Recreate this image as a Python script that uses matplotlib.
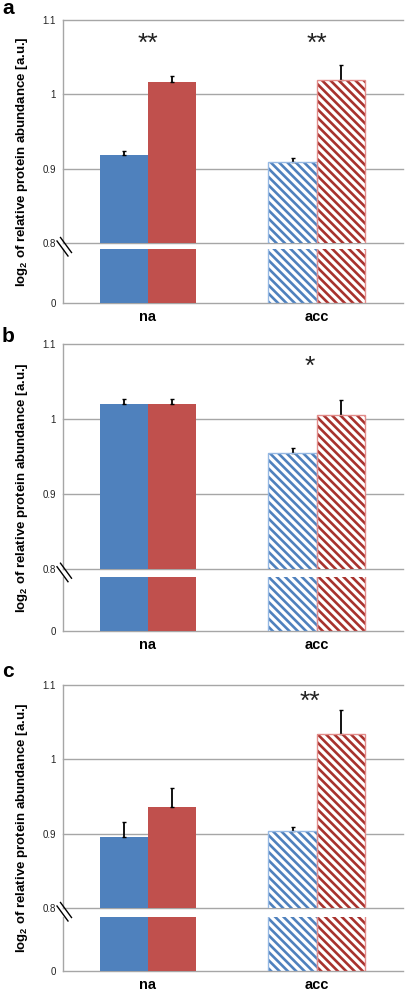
import matplotlib
matplotlib.use('Agg')
import matplotlib.pyplot as plt
import numpy as np

plt.rcParams['font.family'] = ['Liberation Sans', 'DejaVu Sans']
plt.rcParams['mathtext.fontset'] = 'custom'
plt.rcParams['mathtext.rm'] = 'Liberation Sans'
plt.rcParams['mathtext.bf'] = 'Liberation Sans:bold'
plt.rcParams['hatch.linewidth'] = 1.9

# data: one entry per panel (a, b, c)
panels = ['a', 'b', 'c']
categories = ['na', 'acc']
blue_na = [0.918, 1.0205, 0.895]
blue_na_err = [0.006, 0.0065, 0.021]
red_na = [1.017, 1.0205, 0.936]
red_na_err = [0.007, 0.0065, 0.026]
blue_acc = [0.909, 0.955, 0.904]
blue_acc_err = [0.006, 0.006, 0.005]
red_acc = [1.019, 1.005, 1.034]
red_acc_err = [0.020, 0.020, 0.032]
stars_na = ['**', '', '']
stars_acc = ['**', '*', '**']
yticks = [0.8, 0.9, 1.0, 1.1]
ytick_labels = ['0.8', '0.9', '1', '1.1']

BLUE = '#4f81bd'
RED = '#c0504d'
BLUE_HATCH = '#4f81bd'
RED_HATCH = '#a8322e'
BLUE_EDGE = '#95b8e3'
RED_EDGE = '#e38c8a'
GRID = '#a6a6a6'
HATCH = chr(92) * 4  # backslash stripes

W, H = 406, 992
fig = plt.figure(figsize=(W / 100, H / 100), dpi=100)

# pixel layout: (upper top, upper bottom, lower top, lower bottom)
layout = [(20, 243, 249, 303), (344, 568.7, 577, 631.3), (685, 908, 917, 971)]
letter_base = [14, 341.7, 677]
star_y = [1.059, 1.0595, 1.068]
star_dx = [0.0, -0.04, -0.04]
x_left, x_right = 63, 403
bw = 0.287
xlim = (-0.503, 1.509)


def px_axes(top, bottom):
    return fig.add_axes([x_left / W, 1 - bottom / H, (x_right - x_left) / W, (bottom - top) / H])


def draw_bars(ax, i, with_err):
    x = np.arange(len(categories))
    kw = dict(capsize=1.5, ecolor='black', elinewidth=1.3, capthick=1.0)
    e = lambda v: ([0], [v]) if with_err else None
    ax.bar(x[0] - bw / 2, blue_na[i], bw, color=BLUE, zorder=3,
           yerr=e(blue_na_err[i]), error_kw=kw)
    ax.bar(x[0] + bw / 2, red_na[i], bw, color=RED, zorder=3,
           yerr=e(red_na_err[i]), error_kw=kw)
    ax.bar(x[1] - bw / 2, blue_acc[i], bw, facecolor='white', edgecolor=BLUE_HATCH,
           hatch=HATCH, linewidth=0, zorder=3, yerr=e(blue_acc_err[i]), error_kw=kw)
    ax.bar(x[1] - bw / 2, blue_acc[i], bw, fill=False, edgecolor=BLUE_EDGE, linewidth=1.0, zorder=4)
    ax.bar(x[1] + bw / 2, red_acc[i], bw, facecolor='white', edgecolor=RED_HATCH,
           hatch=HATCH, linewidth=0, zorder=3, yerr=e(red_acc_err[i]), error_kw=kw)
    ax.bar(x[1] + bw / 2, red_acc[i], bw, fill=False, edgecolor=RED_EDGE, linewidth=1.0, zorder=4)


for i, p in enumerate(panels):
    ut, ub, lt, lb = layout[i]

    # upper part of broken axis
    ax = px_axes(ut, ub)
    draw_bars(ax, i, True)
    ax.set_xlim(*xlim)
    ax.set_ylim(0.8, 1.1)
    for yv in yticks:
        ax.axhline(yv, color=GRID, lw=1.0, zorder=1, clip_on=False)
    ax.set_yticks(yticks)
    ax.set_yticklabels(ytick_labels, fontsize=7, color='#222222')
    ax.set_xticks([])
    ax.tick_params(axis='y', length=0, pad=5)
    for s in ['top', 'right', 'bottom']:
        ax.spines[s].set_visible(False)
    ax.spines['left'].set_color(GRID)
    ax.spines['left'].set_linewidth(1.0)
    for xs, txt in [(0 + star_dx[i], stars_na[i]), (1 + star_dx[i], stars_acc[i])]:
        if txt:
            ax.text(xs, star_y[i], txt, ha='center', va='baseline', fontsize=19, color='#222222')

    # lower part
    axl = px_axes(lt, lb)
    draw_bars(axl, i, False)
    axl.set_xlim(*xlim)
    axl.set_ylim(0, 0.8)
    axl.set_yticks([0])
    axl.set_yticklabels(['0'], fontsize=7, color='#222222')
    axl.set_xticks([0, 1])
    axl.set_xticklabels(categories, fontsize=10.5, fontweight='bold')
    axl.tick_params(axis='both', length=0, pad=5)
    for s in ['top', 'right']:
        axl.spines[s].set_visible(False)
    for s in ['left', 'bottom']:
        axl.spines[s].set_color(GRID)
        axl.spines[s].set_linewidth(1.0)

    # break marks on the y axis
    for off in [0, 3.5]:
        x0, y0 = 57 + off, ub - 2 - off
        fig.add_artist(plt.Line2D([x0 / W, (x0 + 11) / W], [1 - y0 / H, 1 - (y0 + 15) / H],
                                  color='black', lw=1.0))

    # y label and panel letter
    fig.text(22 / W, 1 - ((ut + lb) / 2) / H,
             r'log$_\mathbf{2}$ of relative protein abundance [a.u.]',
             rotation=90, ha='center', va='center', fontsize=9.5, fontweight='bold')
    fig.text(2 / W, 1 - letter_base[i] / H, p, fontsize=15, fontweight='bold',
             ha='left', va='baseline')

fig.savefig('out.png', dpi=100)
